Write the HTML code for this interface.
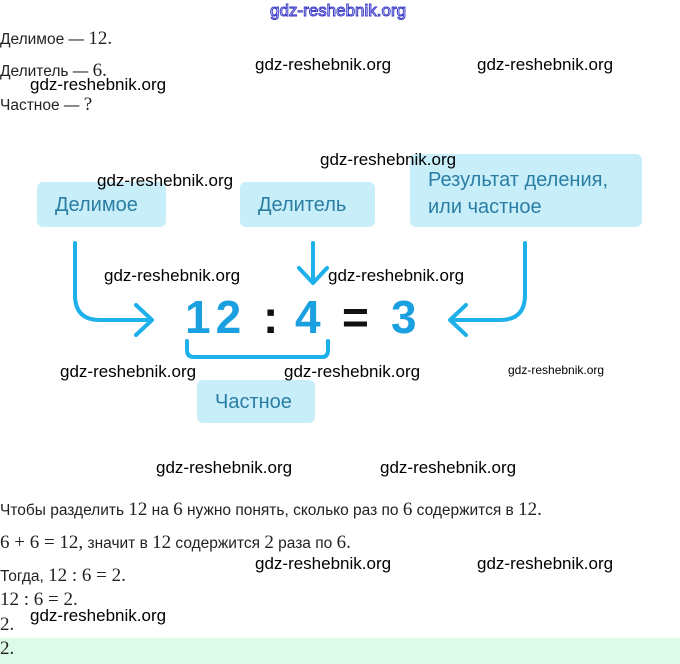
<!DOCTYPE html>
<html><head><meta charset="utf-8"><style>
body{margin:0;width:680px;height:664px;background:#fff;position:relative;overflow:hidden;font-family:"Liberation Sans",sans-serif;}
.a{position:absolute;white-space:nowrap;}
.t{font-size:15.5px;color:#222;}
.m{font-family:"Liberation Serif",serif;font-size:19px;}
.w{font-size:17px;color:#000;}
.b{position:absolute;background:#c8eefa;border-radius:6px;color:#2a7ea3;font-size:20px;}
.n{position:absolute;font-size:46px;font-weight:bold;color:#1a9fe0;top:290px;}
</style></head><body>
<div class="a" style="left:270px;top:1px;font-size:17px;color:#fff;-webkit-text-stroke:1px #3a3ac8;">gdz-reshebnik.org</div>
<div class="a t" style="left:0;top:28px">Делимое — <span class="m">12.</span></div>
<div class="a t" style="left:0;top:60px">Делитель — <span class="m">6.</span></div>
<div class="a t" style="left:0;top:94px">Частное — <span class="m">?</span></div>
<div class="a w" style="left:255px;top:55px">gdz-reshebnik.org</div>
<div class="a w" style="left:477px;top:55px">gdz-reshebnik.org</div>
<div class="a w" style="left:30px;top:75px">gdz-reshebnik.org</div>

<div class="b" style="left:37px;top:182px;width:129px;height:45px"><span class="a" style="left:18px;top:12px">Делимое</span></div>
<div class="b" style="left:240px;top:182px;width:135px;height:45px"><span class="a" style="left:18px;top:12px">Делитель</span></div>
<div class="b" style="left:410px;top:154px;width:232px;height:73px"><span class="a" style="left:18px;top:13px;line-height:27px">Результат деления,<br>или частное</span></div>
<div class="b" style="left:197px;top:380px;width:118px;height:43px"><span class="a" style="left:18px;top:11px">Частное</span></div>

<svg class="a" style="left:0;top:0" width="680" height="664">
<g fill="none" stroke="#1db0ea" stroke-width="4" stroke-linecap="round" stroke-linejoin="round">
<path d="M75 243 V295 Q75 320 100 320 H150"/><path d="M136 305 L152 320 L136 335"/>
<path d="M313 243 V282"/><path d="M299 268 L313 283 L327 268"/>
<path d="M525 243 V295 Q525 320 500 320 H452"/><path d="M466 305 L450 320 L466 335"/>
<path d="M187 341 V350 Q187 357 194 357 H322 Q328 357 328 350 V341"/>
</g></svg>
<div class="n" style="left:185px;letter-spacing:5px">12</div>
<div class="n" style="left:263px;color:#111">:</div>
<div class="n" style="left:295px">4</div>
<div class="n" style="left:342px;color:#111">=</div>
<div class="n" style="left:391px">3</div>

<div class="a w" style="left:97px;top:171px">gdz-reshebnik.org</div>
<div class="a w" style="left:320px;top:150px">gdz-reshebnik.org</div>
<div class="a w" style="left:104px;top:266px">gdz-reshebnik.org</div>
<div class="a w" style="left:328px;top:266px">gdz-reshebnik.org</div>
<div class="a w" style="left:60px;top:362px">gdz-reshebnik.org</div>
<div class="a w" style="left:284px;top:362px">gdz-reshebnik.org</div>
<div class="a" style="left:508px;top:363px;font-size:12px">gdz-reshebnik.org</div>
<div class="a w" style="left:156px;top:458px">gdz-reshebnik.org</div>
<div class="a w" style="left:380px;top:458px">gdz-reshebnik.org</div>

<div class="a t" style="left:0;top:499px">Чтобы разделить <span class="m">12</span> на <span class="m">6</span> нужно понять, сколько раз по <span class="m">6</span> содержится в <span class="m">12.</span></div>
<div class="a t" style="left:0;top:532px"><span class="m">6 + 6 = 12,</span> значит в <span class="m">12</span> содержится <span class="m">2</span> раза по <span class="m">6.</span></div>
<div class="a t" style="left:0;top:565px">Тогда, <span class="m">12 : 6 = 2.</span></div>
<div class="a t" style="left:0;top:589px"><span class="m">12 : 6 = 2.</span></div>
<div class="a t" style="left:0;top:614px"><span class="m">2.</span></div>
<div class="a w" style="left:255px;top:554px">gdz-reshebnik.org</div>
<div class="a w" style="left:477px;top:554px">gdz-reshebnik.org</div>
<div class="a w" style="left:30px;top:606px">gdz-reshebnik.org</div>
<div class="a" style="left:0;top:638px;width:680px;height:26px;background:#dcfce9"></div>
<div class="a t" style="left:0;top:638px"><span class="m">2.</span></div>
</body></html>
